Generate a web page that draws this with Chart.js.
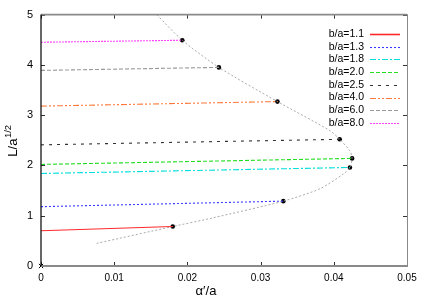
<!DOCTYPE html>
<html><head><meta charset="utf-8">
<script src="https://cdn.jsdelivr.net/npm/chart.js@4/dist/chart.umd.min.js"></script>
<style>html,body{margin:0;padding:0;background:#fff}#wrap{width:425px;height:298px}</style>
</head><body><div id="wrap"><canvas id="c"></canvas></div>
<script>
const seriesLabels = ['b/a=1.1','b/a=1.3','b/a=1.8','b/a=2.0','b/a=2.5','b/a=4.0','b/a=6.0','b/a=8.0'];
const startAlpha = [0, 0, 0, 0, 0, 0, 0, 0];
const startL = [0.70, 1.18, 1.84, 2.02, 2.41, 3.18, 3.89, 4.45];
const endAlpha = [0.0180, 0.0331, 0.0422, 0.0425, 0.0408, 0.0323, 0.0243, 0.0193];
const endL = [0.785, 1.29, 1.96, 2.14, 2.52, 3.27, 3.95, 4.49];
const curveAlpha = [0.0076, 0.0180, 0.0234, 0.0331, 0.0381, 0.0413, 0.0422, 0.0425, 0.0422, 0.0408, 0.0395, 0.0323, 0.0243, 0.0193, 0.0158];
const curveL = [0.45, 0.785, 0.955, 1.29, 1.536, 1.83, 1.96, 2.14, 2.29, 2.52, 2.69, 3.27, 3.95, 4.49, 5.0];
const originPoint = [{x: 0, y: 0}];
const xTicks = [0, 0.01, 0.02, 0.03, 0.04, 0.05];
const yTicks = [0, 1, 2, 3, 4, 5];

const colors = ['#ff2a2a','#3a3aff','#00dede','#22dd22','#333333','#ff7a3a','#999999','#ff44ff'];
const dashes = [[], [2,2], [6,2,2,2], [4,2], [3,5], [6,2,2,2,2,2], [4,2], [2,1]];

const datasets = seriesLabels.map((lab, i) => ({
  label: lab,
  data: [{x: startAlpha[i], y: startL[i]}, {x: endAlpha[i], y: endL[i]}],
  borderColor: colors[i], borderWidth: 1.1, borderDash: dashes[i],
  pointRadius: 0, showLine: true, fill: false, tension: 0
}));
datasets.push({
  label: 'curve',
  data: curveAlpha.map((x, i) => ({x, y: curveL[i]})),
  borderColor: '#a0a0a0', borderWidth: 0.9, borderDash: [2,2],
  pointRadius: 0, showLine: true, fill: false, tension: 0.25
});
datasets.push({
  label: 'ends',
  data: endAlpha.map((x, i) => ({x, y: endL[i]})),
  showLine: false, pointRadius: 2.3, pointBackgroundColor: '#000', pointBorderColor: '#000', pointBorderWidth: 0
});
datasets.push({
  label: 'origin',
  data: originPoint,
  showLine: false, pointStyle: 'crossRot', pointRadius: 3, pointBorderColor: '#000', pointBorderWidth: 1, clip: false
});

const FONT = '"Liberation Sans", Arial, Helvetica, sans-serif';

const framePlugin = {
  id: 'frame',
  afterDraw(chart) {
    const {ctx, chartArea: a, scales: {x, y}} = chart;
    ctx.save();
    ctx.strokeStyle = '#333'; ctx.lineWidth = 1; ctx.setLineDash([]);
    xTicks.forEach(v => {
      const px = Math.round(x.getPixelForValue(v)) + 0.5;
      ctx.beginPath(); ctx.moveTo(px, a.bottom); ctx.lineTo(px, a.bottom - 4);
      ctx.moveTo(px, a.top); ctx.lineTo(px, a.top + 4); ctx.stroke();
    });
    yTicks.forEach(v => {
      const py = Math.round(y.getPixelForValue(v)) + 0.5;
      ctx.beginPath(); ctx.moveTo(a.left, py); ctx.lineTo(a.left + 4, py);
      ctx.moveTo(a.right, py); ctx.lineTo(a.right - 4, py); ctx.stroke();
    });
    ctx.strokeStyle = '#8a8a8a';
    ctx.lineWidth = 1.6;
    ctx.beginPath(); ctx.moveTo(a.left, a.top); ctx.lineTo(a.right, a.top); ctx.stroke();
    ctx.lineWidth = 1;
    ctx.beginPath(); ctx.moveTo(a.right + 0.5, a.top); ctx.lineTo(a.right + 0.5, a.bottom); ctx.stroke();
    ctx.lineWidth = 2.2;
    ctx.beginPath(); ctx.moveTo(a.left, a.bottom); ctx.lineTo(a.right + 1, a.bottom); ctx.stroke();
    ctx.strokeStyle = '#000'; ctx.lineWidth = 1.2;
    ctx.beginPath(); ctx.moveTo(a.left, a.top); ctx.lineTo(a.left, a.bottom); ctx.stroke();

    ctx.font = '10.5px ' + FONT;
    ctx.textAlign = 'right'; ctx.textBaseline = 'middle'; ctx.fillStyle = '#000';
    seriesLabels.forEach((lab, i) => {
      const yy = 34 + i * 12.7;
      ctx.fillText(lab, 364, yy);
      ctx.strokeStyle = colors[i]; ctx.lineWidth = i === 0 ? 1.6 : 1.1; ctx.setLineDash(dashes[i]);
      ctx.beginPath(); ctx.moveTo(370, Math.round(yy) + 0.5); ctx.lineTo(400, Math.round(yy) + 0.5); ctx.stroke();
    });
    ctx.setLineDash([]);

    ctx.fillStyle = '#000';
    ctx.font = '13px ' + FONT;
    ctx.textAlign = 'center'; ctx.textBaseline = 'alphabetic';
    ctx.fillText('\u03b1\u2032/a', 206, 295);
    ctx.save();
    ctx.translate(17, 141); ctx.rotate(-Math.PI / 2);
    ctx.textAlign = 'left';
    const main = 'L/a';
    ctx.font = '13px ' + FONT;
    const w1 = ctx.measureText(main).width;
    ctx.font = '9.5px ' + FONT;
    const w2 = ctx.measureText('1/2').width;
    const start = -(w1 + w2) / 2;
    ctx.font = '13px ' + FONT;
    ctx.fillText(main, start, 0);
    ctx.font = '9.5px ' + FONT;
    ctx.fillText('1/2', start + w1 + 0.5, -6);
    ctx.restore();
    ctx.restore();
  }
};

new Chart(document.getElementById('c'), {
  type: 'scatter',
  data: { datasets },
  options: {
    responsive: true, maintainAspectRatio: false, animation: false,
    layout: { padding: { top: 13, right: 18, left: 0, bottom: 0 } },
    plugins: { legend: { display: false }, tooltip: { enabled: false } },
    scales: {
      x: {
        type: 'linear', min: 0, max: 0.05,
        afterBuildTicks: s => { s.ticks = xTicks.map(v => ({value: v})); },
        afterFit: s => { s.height = 32; },
        grid: { display: false, drawTicks: false }, border: { display: false },
        ticks: { padding: 6, color: '#000', font: { family: FONT, size: 10 }, maxRotation: 0,
          callback: v => v === 0 ? '0' : v.toFixed(2) }
      },
      y: {
        type: 'linear', min: 0, max: 5,
        afterBuildTicks: s => { s.ticks = yTicks.map(v => ({value: v})); },
        afterFit: s => { s.width = 41; },
        grid: { display: false, drawTicks: false }, border: { display: false },
        ticks: { padding: 8, color: '#000', font: { family: FONT, size: 11 }, callback: v => String(v) }
      }
    }
  },
  plugins: [framePlugin]
});
</script></body></html>
